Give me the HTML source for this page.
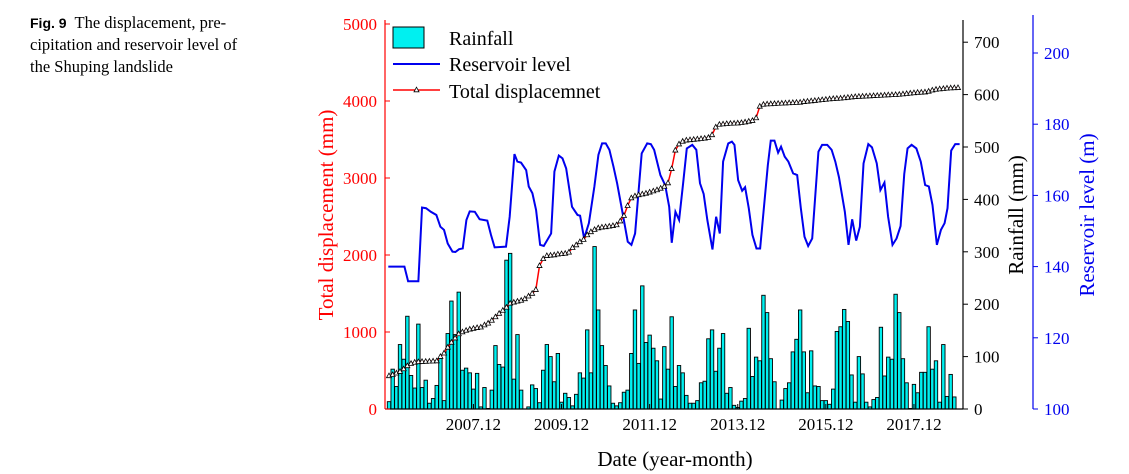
<!DOCTYPE html>
<html><head><meta charset="utf-8">
<style>
body{margin:0;background:#fff;width:1129px;height:474px;overflow:hidden;font-family:"Liberation Serif",serif;}
#cap{position:absolute;left:30px;top:12px;font-size:16.5px;line-height:22px;color:#000;width:280px}
#cap b{font-family:"Liberation Sans",sans-serif;font-size:14px}
</style></head><body>
<div id="cap"><b>Fig. 9</b>&nbsp; The displacement, pre-<br>cipitation and reservoir level of<br>the Shuping landslide</div>
<svg id="chart" width="1129" height="474" style="position:absolute;left:0;top:0"></svg>
<script>
const rainfall=[14,76,43,123,95,177,64,40,162,41,55,11,
20,45,97,16,144,206,142,223,74,78,69,38,
68,4,41,1,36,121,85,80,284,297,57,142,
36,0,4,46,39,12,74,123,100,52,106,13,
30,22,6,28,69,59,151,69,310,189,121,83,
44,11,6,12,32,36,106,189,87,235,127,141,
116,92,19,
119,76,176,43,83,69,26,11,11,16,50,53,134,151,72,116,144,30,41,7,3,15,20,154,62,99,92,217,184,96,52,0,17,39,50,109,133,189,109,31,111,44,43,16,16,9,38,148,157,190,167,65,13,100,67,13,4,18,22,156,63,99,95,219,184,96,50,1,47,31,70,70,157,76,92,13,123,24,66,23];
const resMonth=[0.9,5.3,6.3,9.1,10.1,11.2,12.5,14.0,15.1,16.1,17.1,18.4,19.2,20.2,21.2,22.2,23.1,24.5,25.8,27.9,28.9,29.9,33.0,34.0,35.3,36.1,37.1,38.5,39.2,40.2,41.2,42.3,43.3,45.3,46.2,47.4,48.4,49.4,51.0,52.5,53.2,54.3,55.6,57.1,58.2,59.2,60.2,61.2,62.3,63.3,64.8,66.2,67.2,68.2,70.0,71.5,72.5,73.4,75.1,76.4,77.5,78.2,79.2,80.2,81.3,82.3,83.8,84.9,85.9,86.9,87.9,89.3,90.3,91.3,92.2,93.6,94.6,95.3,96.3,97.4,98.2,99.2,100.2,101.3,102.3,104.4,105.2,106.2,107.2,108.0,109.0,110.0,111.3,112.4,113.4,114.4,115.4,116.5,118.2,119.2,120.6,121.8,122.8,123.8,125.4,126.4,127.4,128.5,129.5,130.5,131.8,132.8,134.1,135.1,136.2,137.2,138.4,139.5,140.6,141.6,142.5,143.6,144.9,146.1,147.3,148.3,149.3,150.5,151.6,152.6,153.4,154.4,155.5,156.7];
const resLevel=[140.0,140.0,135.9,135.9,156.6,156.4,155.4,154.5,151.2,150.3,146.5,144.2,144.1,144.9,145.1,153.1,155.5,155.4,153.3,152.9,148.9,145.4,145.6,154.0,171.6,169.5,169.2,167.1,162.5,160.6,155.9,146.1,145.8,149.3,166.7,171.2,170.4,167.6,156.8,154.5,154.3,147.9,152.2,162.5,171.4,174.6,174.6,172.8,168.1,163.4,155.0,147.0,146.1,149.3,171.8,174.6,174.4,172.8,165.7,162.9,156.8,146.7,155.4,153.1,163.4,173.2,174.2,172.8,163.4,160.4,153.1,144.8,154.0,149.3,169.5,174.6,175.1,174.2,164.3,161.3,162.3,156.4,148.9,145.1,145.1,168.5,175.4,175.4,172.0,173.7,170.9,169.5,166.2,165.7,156.4,148.4,145.8,147.9,172.3,174.2,174.2,172.8,169.5,165.1,155.4,146.1,153.3,147.3,151.2,169.0,174.4,173.5,169.0,161.5,163.6,154.0,146.1,147.9,151.4,166.0,173.2,174.2,173.2,169.5,162.9,162.5,157.3,146.1,150.3,152.2,156.4,172.6,174.4,174.4];
const displacement=[430,445,465,485,520,560,590,605,612,615,617,619,621,623,680,725,800,865,920,975,1000,1020,1035,1045,1055,1062,1090,1113,1150,1195,1240,1280,1320,1372,1385,1398,1410,1430,1465,1500,1550,1860,1950,1990,1995,2000,2010,2015,2020,2035,2095,2130,2170,2200,2260,2300,2330,2350,2360,2365,2372,2380,2390,2440,2510,2640,2740,2765,2780,2790,2800,2815,2830,2845,2865,2890,2935,3120,3360,3440,3475,3490,3495,3500,3505,3510,3515,3525,3560,3660,3695,3700,3705,3708,3710,3712,3718,3725,3735,3745,3780,3930,3955,3960,3962,3965,3968,3970,3972,3975,3978,3980,3982,3990,3995,4000,4005,4010,4015,4020,4025,4030,4032,4035,4040,4045,4050,4055,4058,4060,4062,4065,4068,4070,4072,4075,4078,4080,4082,4085,4090,4095,4100,4105,4110,4112,4115,4125,4140,4150,4155,4160,4165,4168,4170,4172];
const xTickLabels=["2007.12","2009.12","2011.12","2013.12","2015.12","2017.12"];
const xTickMonths=[23,47,71,95,119,143];
const dispTicks=[0,1000,2000,3000,4000,5000];
const rainTicks=[0,100,200,300,400,500,600,700];
const resTicks=[100,120,140,160,180,200];

const NS="http://www.w3.org/2000/svg";
const svg=document.getElementById('chart');
const X0=389,DX=3.671,YB=409;
const xScale=m=>X0+m*DX;
const resMonthScale=t=>385+t*3.667;
const yDisp=v=>YB-v*0.077;
const yRain=v=>YB-v*0.524;
const yRes=v=>YB-(v-100)*3.56;
function el(tag,attrs,parent){const e=document.createElementNS(NS,tag);for(const k in attrs)e.setAttribute(k,attrs[k]);(parent||svg).appendChild(e);return e;}
function txt(x,y,s,attrs,parent){const t=el('text',Object.assign({x:x,y:y,'font-family':'Liberation Serif, serif','font-size':17},attrs),parent);t.textContent=s;return t;}

const gb=el('g',{});


rainfall.forEach((v,i)=>{
  const r=el('rect',{x:xScale(i)-1.7,y:yRain(v),width:3.4,height:Math.max(0,YB-yRain(v)),fill:'#00f0f0',stroke:'#000','stroke-width':0.9},gb);
  
  
});
const rp=el('polyline',{points:resMonth.map((t,i)=>resMonthScale(t)+','+yRes(resLevel[i])).join(' '),fill:'none',stroke:'#0000ee','stroke-width':2});


const dp=el('polyline',{points:displacement.map((v,i)=>xScale(i)+','+yDisp(v)).join(' '),fill:'none',stroke:'#ff0000','stroke-width':1.5});


const gm=el('g',{});


displacement.forEach((v,i)=>{
  const x=xScale(i),y=yDisp(v);
  const p=el('polygon',{points:`${x},${y-2.8} ${x-2.5},${y+1.8} ${x+2.5},${y+1.8}`,fill:'#fff',stroke:'#000','stroke-width':0.8},gm);
  
  
});
const la=el('line',{x1:385,y1:20,x2:385,y2:YB,stroke:'#ff0000','stroke-width':1.2});


const ba=el('line',{x1:385,y1:YB,x2:963,y2:YB,stroke:'#000','stroke-width':1.2});


const ra=el('line',{x1:963,y1:20,x2:963,y2:YB,stroke:'#000','stroke-width':1.2});


const va=el('line',{x1:1033,y1:15,x2:1033,y2:YB,stroke:'#0000ee','stroke-width':1.2});


dispTicks.forEach(v=>{
  const y=yDisp(v);
  el('line',{x1:385,y1:y,x2:390,y2:y,stroke:'#ff0000'});
  const t=txt(377,y+6,String(v),{'text-anchor':'end',fill:'#ff0000'});
  
  
});
rainTicks.forEach(v=>{
  const y=yRain(v);
  el('line',{x1:963,y1:y,x2:968,y2:y,stroke:'#000'});
  const t=txt(974,y+6,String(v),{fill:'#000'});
  
  
});
resTicks.forEach(v=>{
  const y=yRes(v);
  el('line',{x1:1033,y1:y,x2:1038,y2:y,stroke:'#0000ee'});
  const t=txt(1044,y+6,String(v),{fill:'#0000ee'});
  
  
});
xTickMonths.forEach((m,i)=>{
  const x=xScale(m);
  el('line',{x1:x,y1:YB,x2:x,y2:YB-5,stroke:'#000'});
  const t=txt(x,430,xTickLabels[i],{'text-anchor':'middle',fill:'#000'});
  
  
});
let t;
t=txt(675,466,'Date (year-month)',{'text-anchor':'middle','font-size':21});

t=txt(0,0,'Total displacement (mm)',{'text-anchor':'middle','font-size':21,fill:'#ff0000',transform:'translate(333,215) rotate(-90)'});

t=txt(0,0,'Rainfall (mm)',{'text-anchor':'middle','font-size':21,fill:'#000',transform:'translate(1023,215) rotate(-90)'});

t=txt(0,0,'Reservoir level (m)',{'text-anchor':'middle','font-size':21,fill:'#0000ee',transform:'translate(1094,215) rotate(-90)'});

const lg=el('g',{});


el('rect',{x:393,y:27,width:31,height:21,fill:'#00f0f0',stroke:'#000','stroke-width':1},lg);
t=txt(449,45,'Rainfall',{'font-size':20},lg);

el('line',{x1:393,y1:64,x2:440,y2:64,stroke:'#0000ee','stroke-width':2},lg);
t=txt(449,71,'Reservoir level',{'font-size':20},lg);

el('line',{x1:393,y1:90,x2:440,y2:90,stroke:'#ff0000','stroke-width':1.5},lg);
el('polygon',{points:'416.5,87.2 414,91.8 419,91.8',fill:'#fff',stroke:'#000','stroke-width':0.8},lg);
t=txt(449,98,'Total displacemnet',{'font-size':20},lg);

</script>
</body></html>
